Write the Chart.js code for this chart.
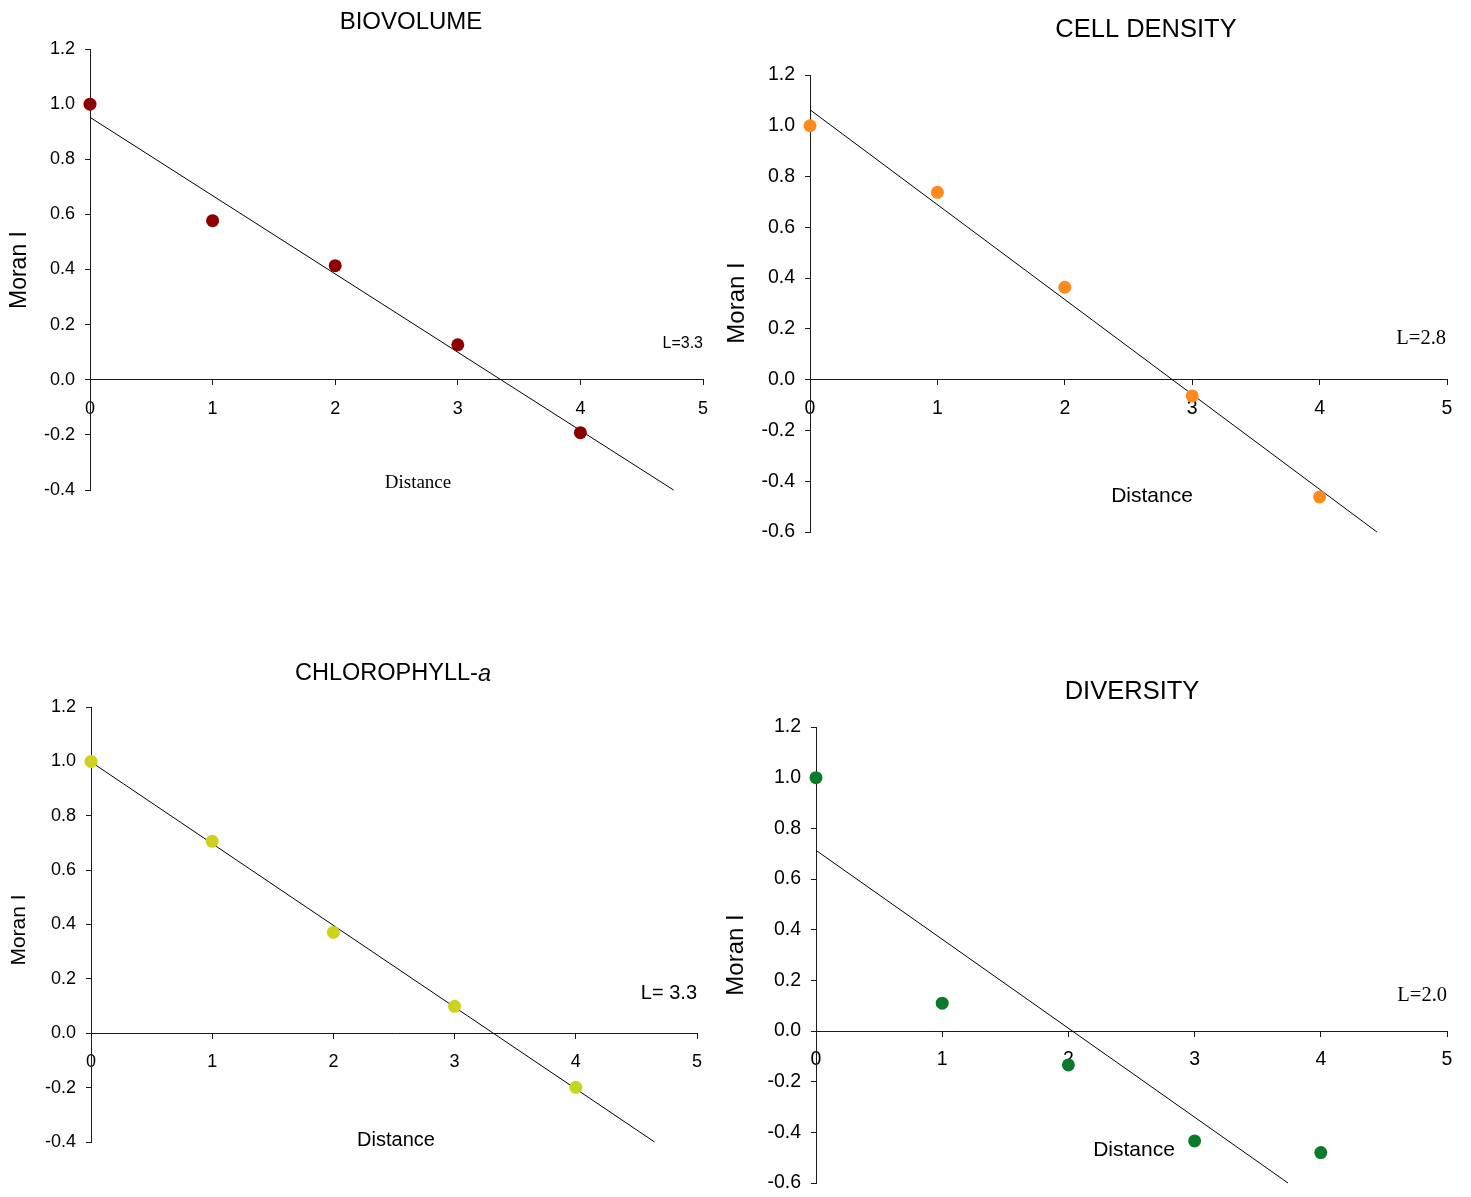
<!DOCTYPE html>
<html>
<head>
<meta charset="utf-8">
<title>Moran I correlograms</title>
<script src="https://cdn.jsdelivr.net/npm/chart.js@4.4.1/dist/chart.umd.min.js"></script>
<style>
  html, body { margin: 0; padding: 0; background: #ffffff; }
  #page { position: relative; width: 1471px; height: 1197px; overflow: hidden; background: #ffffff; }
  #page canvas { position: absolute; }
</style>
</head>
<body>
<div id="page">
  <canvas id="biovolumeChart" width="715" height="600" style="left:0px;top:0px"></canvas>
  <canvas id="cellDensityChart" width="756" height="600" style="left:715px;top:0px"></canvas>
  <canvas id="chlorophyllChart" width="715" height="597" style="left:0px;top:600px"></canvas>
  <canvas id="diversityChart" width="756" height="597" style="left:715px;top:600px"></canvas>
</div>
<script>
// Distance classes and Moran's I per variable
const distance = [0, 1, 2, 3, 4];
const biovolume = [1.0, 0.577, 0.414, 0.127, -0.192];
const cellDensity = [1.0, 0.738, 0.364, -0.064, -0.462];
const chlorophyllA = [1.0, 0.706, 0.371, 0.099, -0.199];
const diversity = [1.0, 0.110, -0.134, -0.434, -0.480];

// End points of the fitted regression lines
const biovolumeFitX = [0, 4.76];
const biovolumeFitY = [0.952, -0.4];
const cellDensityFitX = [0, 4.45];
const cellDensityFitY = [1.063, -0.6];
const chlorophyllFitX = [0, 4.65];
const chlorophyllFitY = [0.998, -0.4];
const diversityFitX = [0, 3.74];
const diversityFitY = [0.713, -0.6];

// Axis ticks
const distanceTicks = [0, 1, 2, 3, 4, 5];
const moranTicksShort = [-0.4, -0.2, 0.0, 0.2, 0.4, 0.6, 0.8, 1.0, 1.2];
const moranTicksLong = [-0.6, -0.4, -0.2, 0.0, 0.2, 0.4, 0.6, 0.8, 1.0, 1.2];

// Text
const panelTitles = [
  [{ text: 'BIOVOLUME' }],
  [{ text: 'CELL DENSITY' }],
  [{ text: 'CHLOROPHYLL-' }, { text: 'a', italic: true }],
  [{ text: 'DIVERSITY' }]
];
const rangeLabels = ['L=3.3', 'L=2.8', 'L= 3.3', 'L=2.0'];
const xAxisLabel = 'Distance';
const yAxisLabel = 'Moran I';

const SANS = '"Liberation Sans", Arial, Helvetica, sans-serif';
const SERIF = '"Liberation Serif", "Times New Roman", Times, serif';

function toPoints(xs, ys) {
  return xs.map((x, i) => ({ x: x, y: ys[i] }));
}

function fontString(size, family, italic) {
  return (italic ? 'italic ' : '') + size + 'px ' + family;
}

// Draws the panel title, axis captions and the patch-size label
const panelText = {
  id: 'panelText',
  afterDraw(chart, args, o) {
    const c = chart.ctx;
    c.save();
    c.fillStyle = '#000000';
    c.textBaseline = 'middle';

    // title (may mix upright and italic runs)
    let total = 0;
    o.title.forEach(run => {
      c.font = fontString(o.titleSize, SANS, run.italic);
      total += c.measureText(run.text).width;
    });
    let tx = o.titleX - total / 2;
    c.textAlign = 'left';
    o.title.forEach(run => {
      c.font = fontString(o.titleSize, SANS, run.italic);
      c.fillText(run.text, tx, o.titleY);
      tx += c.measureText(run.text).width;
    });

    // x caption
    c.textAlign = 'center';
    c.font = fontString(o.xLabelSize, o.xLabelFamily, false);
    c.fillText(xAxisLabel, o.xLabelX, o.xLabelY);

    // range label
    c.textAlign = 'right';
    c.font = fontString(o.rangeSize, o.rangeFamily, false);
    c.fillText(o.range, o.rangeX, o.rangeY);

    // y caption, rotated
    c.translate(o.yLabelX, o.yLabelY);
    c.rotate(-Math.PI / 2);
    c.textAlign = 'center';
    c.font = fontString(o.yLabelSize, SANS, false);
    c.fillText(yAxisLabel, 0, 0);
    c.restore();
  }
};

function trimPadding(scale) {
  scale.paddingLeft = 0;
  scale.paddingRight = 0;
  scale.paddingTop = 0;
  scale.paddingBottom = 0;
}

function buildPanel(canvasId, cfg) {
  const axisColor = '#1a1a1a';
  const gridStyle = {
    drawOnChartArea: false,
    drawTicks: true,
    tickLength: 5,
    color: axisColor,
    lineWidth: 1
  };
  return new Chart(document.getElementById(canvasId), {
    type: 'scatter',
    data: {
      datasets: [
        {
          label: 'points',
          data: toPoints(distance, cfg.values),
          backgroundColor: cfg.color,
          borderColor: cfg.color,
          borderWidth: 0,
          pointRadius: 6.5,
          pointHoverRadius: 6.5,
          order: 0,
          clip: false
        },
        {
          label: 'fit',
          data: toPoints(cfg.fitX, cfg.fitY),
          showLine: true,
          borderColor: '#000000',
          borderWidth: 1,
          pointRadius: 0,
          pointHoverRadius: 0,
          fill: false,
          order: 1,
          clip: false
        }
      ]
    },
    options: {
      responsive: false,
      animation: false,
      events: [],
      layout: { padding: { left: 0, top: cfg.area.top, right: cfg.area.right, bottom: cfg.area.bottom } },
      plugins: {
        legend: { display: false },
        tooltip: { enabled: false },
        title: { display: false },
        panelText: cfg.text
      },
      scales: {
        x: {
          type: 'linear',
          min: 0,
          max: 5,
          position: { y: 0 },
          afterFit: trimPadding,
          afterBuildTicks: s => { s.ticks = distanceTicks.map(v => ({ value: v })); },
          grid: gridStyle,
          border: { display: true, color: axisColor, width: 1 },
          ticks: {
            padding: cfg.xTickPadding,
            color: '#000000',
            font: { family: SANS, size: cfg.tickSize },
            maxRotation: 0,
            autoSkip: false,
            callback: v => String(v)
          }
        },
        y: {
          type: 'linear',
          min: cfg.yTicks[0],
          max: cfg.yTicks[cfg.yTicks.length - 1],
          position: 'left',
          // the y scale band spans from the canvas edge to the plot's left edge
          afterFit: s => { trimPadding(s); s.width = cfg.area.left; },
          afterBuildTicks: s => { s.ticks = cfg.yTicks.map(v => ({ value: v })); },
          grid: gridStyle,
          border: { display: true, color: axisColor, width: 1 },
          ticks: {
            padding: cfg.yTickPadding,
            color: '#000000',
            font: { family: SANS, size: cfg.tickSize },
            autoSkip: false,
            callback: v => (Math.abs(v) < 1e-9 ? 0 : v).toFixed(1)
          }
        }
      }
    },
    plugins: [panelText]
  });
}

buildPanel('biovolumeChart', {
  values: biovolume,
  fitX: biovolumeFitX,
  fitY: biovolumeFitY,
  color: '#8c0000',
  yTicks: moranTicksShort,
  area: { left: 90, top: 49, right: 12, bottom: 110 },
  tickSize: 18,
  xTickPadding: 13,
  yTickPadding: 10,
  text: {
    title: panelTitles[0], titleSize: 24, titleX: 411, titleY: 22,
    xLabelSize: 19, xLabelFamily: SERIF, xLabelX: 418, xLabelY: 483,
    range: rangeLabels[0], rangeSize: 16, rangeFamily: SANS, rangeX: 703, rangeY: 344,
    yLabelSize: 23, yLabelX: 20, yLabelY: 270
  }
});

buildPanel('cellDensityChart', {
  values: cellDensity,
  fitX: cellDensityFitX,
  fitY: cellDensityFitY,
  color: '#ff8a1c',
  yTicks: moranTicksLong,
  area: { left: 95, top: 75, right: 24, bottom: 68 },
  tickSize: 19.5,
  xTickPadding: 12,
  yTickPadding: 10,
  text: {
    title: panelTitles[1], titleSize: 25.5, titleX: 431, titleY: 30,
    xLabelSize: 21, xLabelFamily: SANS, xLabelX: 437, xLabelY: 496,
    range: rangeLabels[1], rangeSize: 20.5, rangeFamily: SERIF, rangeX: 731, rangeY: 339,
    yLabelSize: 24, yLabelX: 22, yLabelY: 303
  }
});

buildPanel('chlorophyllChart', {
  values: chlorophyllA,
  fitX: chlorophyllFitX,
  fitY: chlorophyllFitY,
  color: '#cdd21c',
  yTicks: moranTicksShort,
  area: { left: 91, top: 107, right: 18, bottom: 55 },
  tickSize: 18,
  xTickPadding: 13,
  yTickPadding: 10,
  text: {
    title: panelTitles[2], titleSize: 23.5, titleX: 393, titleY: 74,
    xLabelSize: 20, xLabelFamily: SANS, xLabelX: 396, xLabelY: 540,
    range: rangeLabels[2], rangeSize: 20, rangeFamily: SANS, rangeX: 697, rangeY: 393,
    yLabelSize: 21, yLabelX: 19, yLabelY: 330
  }
});

buildPanel('diversityChart', {
  values: diversity,
  fitX: diversityFitX,
  fitY: diversityFitY,
  color: '#0b7a2b',
  yTicks: moranTicksLong,
  area: { left: 101, top: 127, right: 24, bottom: 14 },
  tickSize: 19.5,
  xTickPadding: 12,
  yTickPadding: 10,
  text: {
    title: panelTitles[3], titleSize: 25.5, titleX: 417, titleY: 92,
    xLabelSize: 21, xLabelFamily: SANS, xLabelX: 419, xLabelY: 550,
    range: rangeLabels[3], rangeSize: 20.5, rangeFamily: SERIF, rangeX: 732, rangeY: 396,
    yLabelSize: 24, yLabelX: 21, yLabelY: 355
  }
});
</script>
</body>
</html>
